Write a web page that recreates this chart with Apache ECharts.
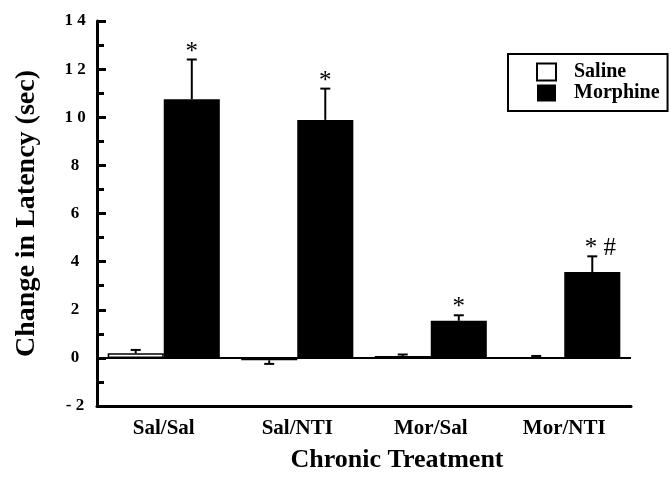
<!DOCTYPE html>
<html>
<head>
<meta charset="utf-8">
<script src="https://cdn.jsdelivr.net/npm/echarts@6/dist/echarts.min.js"></script>
<style>
  html, body { margin: 0; padding: 0; background: #fff; }
  #chart { width: 671px; height: 478px; }
</style>
</head>
<body>
<div id="chart"></div>
<script>
// values
const categories = ['Sal/Sal', 'Sal/NTI', 'Mor/Sal', 'Mor/NTI']
const salineMean = [0.19, -0.1, 0.08, 0.0]
const salineErr = [0.14, 0.15, 0.06, 0.08]
const morphineMean = [10.75, 9.89, 1.54, 3.57]
const morphineErr = [1.65, 1.3, 0.23, 0.65]
const morphineSig = ['*', '*', '*', '* #']
const yTickLabels = ['- 2', '0', '2', '4', '6', '8', '1 0', '1 2', '1 4']

const serif = '"Liberation Serif", "DejaVu Serif", serif'
const barShare = 0.42 // each bar's share of the category band

// error bar (one-sided, away from zero) + optional significance mark
function errorSeries(name, means, errs, side, marks) {
  return {
    name: name + ' err',
    type: 'custom',
    silent: true,
    z: 5,
    data: means.map((m, i) => [i, m, errs[i]]),
    renderItem(params, api) {
      const i = api.value(0)
      const m = api.value(1)
      const e = api.value(2)
      const band = api.size([1, 0])[0]
      const dx = side * band * barShare / 2
      const end = m < 0 ? m - e : m + e
      const p0 = api.coord([i, m])
      const p1 = api.coord([i, end])
      const x = p0[0] + dx
      const cap = 5
      const children = [
        { type: 'line', shape: { x1: x, y1: p0[1], x2: x, y2: p1[1] },
          style: { stroke: '#000', lineWidth: 2 } },
        { type: 'line', shape: { x1: x - cap, y1: p1[1], x2: x + cap, y2: p1[1] },
          style: { stroke: '#000', lineWidth: 2 } }
      ]
      if (marks && marks[i]) {
        children.push({
          type: 'text',
          style: {
            x: x + (marks[i].length > 1 ? 8 : 0), y: p1[1] + 5,
            text: marks[i],
            fill: '#000',
            font: '25px ' + serif,
            align: 'center',
            verticalAlign: 'bottom'
          }
        })
      }
      return { type: 'group', children: children }
    }
  }
}

const chart = echarts.init(document.getElementById('chart'))
chart.setOption({
  animation: false,
  backgroundColor: '#fff',
  grid: { left: 97, right: 40, top: 21, bottom: 69 },
  legend: {
    orient: 'vertical',
    left: 508,
    top: 54,
    padding: [8, 8, 8, 28],
    itemGap: 1,
    itemWidth: 19,
    itemHeight: 17,
    borderColor: '#000',
    borderWidth: 2,
    borderRadius: 0,
    selectedMode: false,
    icon: 'rect',
    textStyle: {
      fontFamily: serif, fontWeight: 'bold', fontSize: 20, color: '#000',
      lineHeight: 17, padding: [0, 0, 0, 13]
    },
    data: [
      { name: 'Saline', itemStyle: { color: '#fff', borderColor: '#000', borderWidth: 2 } },
      { name: 'Morphine', itemStyle: { color: '#000', borderColor: '#000', borderWidth: 0 } }
    ]
  },
  xAxis: {
    type: 'category',
    data: categories,
    name: 'Chronic Treatment',
    nameLocation: 'middle',
    nameGap: 41,
    nameTextStyle: {
      fontFamily: serif, fontWeight: 'bold', fontSize: 26, color: '#000',
      padding: [0, 0, 0, 66]
    },
    axisLine: { onZero: false, lineStyle: { color: '#000', width: 3 } },
    axisTick: { show: false },
    axisLabel: { fontFamily: serif, fontWeight: 'bold', fontSize: 21, color: '#000', margin: 12 }
  },
  yAxis: {
    type: 'value',
    min: -2,
    max: 14,
    interval: 2,
    name: 'Change in Latency (sec)',
    nameLocation: 'middle',
    nameGap: 56,
    nameTextStyle: { fontFamily: serif, fontWeight: 'bold', fontSize: 28, color: '#000' },
    axisLine: { show: true, lineStyle: { color: '#000', width: 3 } },
    axisTick: { show: true, inside: true, length: 9, lineStyle: { color: '#000', width: 3 } },
    minorTick: { show: true, splitNumber: 2, length: 7, lineStyle: { color: '#000', width: 3 } },
    splitLine: { show: false },
    axisLabel: {
      fontFamily: serif, fontWeight: 'bold', fontSize: 17, color: '#000',
      margin: 22, align: 'center',
      formatter: v => yTickLabels[Math.round((v + 2) / 2)]
    }
  },
  series: [
    {
      name: 'Saline',
      type: 'bar',
      data: salineMean,
      barWidth: (barShare * 100) + '%',
      barGap: '0%',
      itemStyle: { color: '#fff', borderColor: '#000', borderWidth: 1.5 }
    },
    {
      name: 'Morphine',
      type: 'bar',
      data: morphineMean,
      barWidth: (barShare * 100) + '%',
      itemStyle: { color: '#000' },
      markLine: {
        silent: true,
        symbol: 'none',
        label: { show: false },
        lineStyle: { color: '#000', width: 2, type: 'solid' },
        data: [{ yAxis: 0 }]
      }
    },
    errorSeries('Saline', salineMean, salineErr, -1, null),
    errorSeries('Morphine', morphineMean, morphineErr, 1, morphineSig)
  ]
})
</script>
</body>
</html>
